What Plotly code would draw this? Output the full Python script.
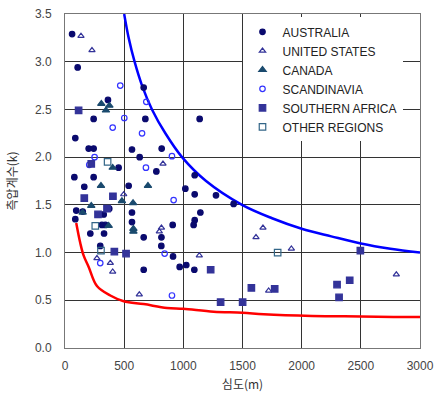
import plotly.graph_objects as go

# Data (depth m, k)
au_x = [60, 107, 665, 363, 242, 679, 1138, 87, 200, 242, 566, 817, 631, 453, 772, 79, 242, 163, 538, 1017,
        1096, 1096, 1276, 1425, 1144, 1096, 1087, 95, 150, 374, 566, 87, 566, 312, 341, 327, 910, 214, 330,
        665, 815, 814, 298, 913, 1025, 969, 1093, 665]
au_y = [3.29, 2.94, 2.73, 2.60, 2.40, 2.40, 2.40, 2.20, 2.09, 2.09, 2.08, 2.09, 2.00, 1.89, 1.85, 1.79, 1.79, 1.69, 1.70, 1.67,
        1.81, 1.61, 1.60, 1.51, 1.42, 1.34, 1.29, 1.44, 1.43, 1.46, 1.42, 1.35, 1.32, 1.29, 1.29, 1.40, 1.29, 1.20, 1.20,
        1.16, 1.16, 1.07, 1.07, 0.96, 0.87, 0.85, 0.82, 0.82]

us_x = [135, 228, 828, 496, 797, 815, 270, 383, 403, 628, 1135, 1614, 1673, 1913, 1721, 2800]
us_y = [3.27, 3.12, 1.93, 1.61, 1.22, 1.26, 0.94, 0.89, 0.80, 0.56, 0.97, 1.16, 1.26, 1.04, 0.60, 0.77]

ca_x = [307, 375, 346, 403, 304, 701, 481, 575, 222, 149, 369, 578, 578]
ca_y = [2.56, 2.54, 2.49, 1.89, 1.70, 1.70, 1.54, 1.52, 1.49, 1.42, 1.28, 1.25, 1.22]

sc_x = [467, 687, 501, 403, 651, 250, 904, 205, 684, 918, 842, 298, 904]
sc_y = [2.75, 2.58, 2.41, 2.31, 2.25, 2.00, 2.01, 1.92, 1.89, 1.55, 0.99, 0.89, 0.55]

sa_x = [115, 222, 163, 405, 279, 355, 417, 516, 1231, 1315, 1501, 1575, 1772, 2496, 2299, 2406, 2316]
sa_y = [2.49, 1.93, 1.57, 1.59, 1.40, 1.46, 1.01, 0.99, 0.82, 0.48, 0.48, 0.63, 0.62, 1.02, 0.665, 0.71, 0.53]

ot_x = [360, 256, 304, 1797]
ot_y = [1.95, 1.28, 1.02, 1.00]

# Envelope curves
blue_x = [500, 538, 588, 651, 735, 848, 989, 1192, 1496, 1750, 2000, 2250, 2500, 2750, 3000]
blue_y = [3.50, 3.25, 3.00, 2.75, 2.50, 2.25, 2.00, 1.75, 1.50, 1.36, 1.25, 1.17, 1.095, 1.04, 1.00]
red_x = [95, 129, 157, 200, 270, 383, 496, 665, 862, 1000, 1256, 1500, 1679, 2088, 2500, 2778, 3000]
red_y = [1.31, 1.10, 0.97, 0.85, 0.65, 0.55, 0.49, 0.46, 0.42, 0.41, 0.38, 0.37, 0.354, 0.336, 0.33, 0.325, 0.325]

x_ticks = [0, 500, 1000, 1500, 2000, 2500, 3000]
y_ticks = [0.0, 0.5, 1.0, 1.5, 2.0, 2.5, 3.0, 3.5]

fig = go.Figure()
fig.add_trace(go.Scatter(x=blue_x, y=blue_y, mode="lines", line=dict(color="#0000ff", width=2.5, shape="spline"),
                         showlegend=False, hoverinfo="skip"))
fig.add_trace(go.Scatter(x=red_x, y=red_y, mode="lines", line=dict(color="#ff0000", width=2.5, shape="spline"),
                         showlegend=False, hoverinfo="skip"))

series = [
    ("AUSTRALIA", au_x, au_y, "circle", "#0a0a6e", 5.5),
    ("UNITED STATES", us_x, us_y, "triangle-up-open", "#333399", 5.5),
    ("CANADA", ca_x, ca_y, "triangle-up", "#1a4a6e", 6.5),
    ("SCANDINAVIA", sc_x, sc_y, "circle-open", "#3333ff", 5.5),
    ("SOUTHERN AFRICA", sa_x, sa_y, "square", "#333399", 6.5),
    ("OTHER REGIONS", ot_x, ot_y, "square-open", "#336688", 6.5),
]
for name, xs, ys, sym, col, sz in series:
    fig.add_trace(go.Scatter(x=xs, y=ys, mode="markers", name=name,
                             marker=dict(symbol=sym, color=col, size=sz, line=dict(color=col, width=1.2))))

grid = "#333333"
fig.update_layout(
    width=442, height=395,
    margin=dict(l=65, r=22, t=14, b=47),
    paper_bgcolor="white", plot_bgcolor="white",
    font=dict(family="Liberation Sans, Arial, sans-serif", color="#333333", size=12),
    legend=dict(x=0.50, y=0.99, xanchor="left", yanchor="top", bgcolor="white",
                font=dict(size=12, color="#222222"), itemwidth=30, tracegroupgap=0),
    xaxis=dict(range=[0, 3000], tickvals=x_ticks, ticktext=[str(v) for v in x_ticks],
               showgrid=True, gridcolor=grid, gridwidth=1, zeroline=False, automargin=False,
               showline=True, linecolor="#777777", linewidth=1, mirror=True,
               ticks="", ticklabelstandoff=7, tickfont=dict(size=12, color="#444444"),
               title=dict(text="심도(m)", font=dict(family="Noto Sans CJK KR", size=12, color="#333333"), standoff=8)),
    yaxis=dict(range=[0, 3.5], tickvals=y_ticks, ticktext=[f"{v:.1f}" for v in y_ticks],
               showgrid=True, gridcolor=grid, gridwidth=1, zeroline=False, automargin=False,
               showline=True, linecolor="#777777", linewidth=1, mirror=True,
               ticks="", ticklabelstandoff=10, tickfont=dict(size=12, color="#444444"),
               title=dict(text="측압계수(k)", font=dict(family="Noto Sans CJK KR", size=12, color="#333333"), standoff=14)),
)

fig.write_html("out.html")
